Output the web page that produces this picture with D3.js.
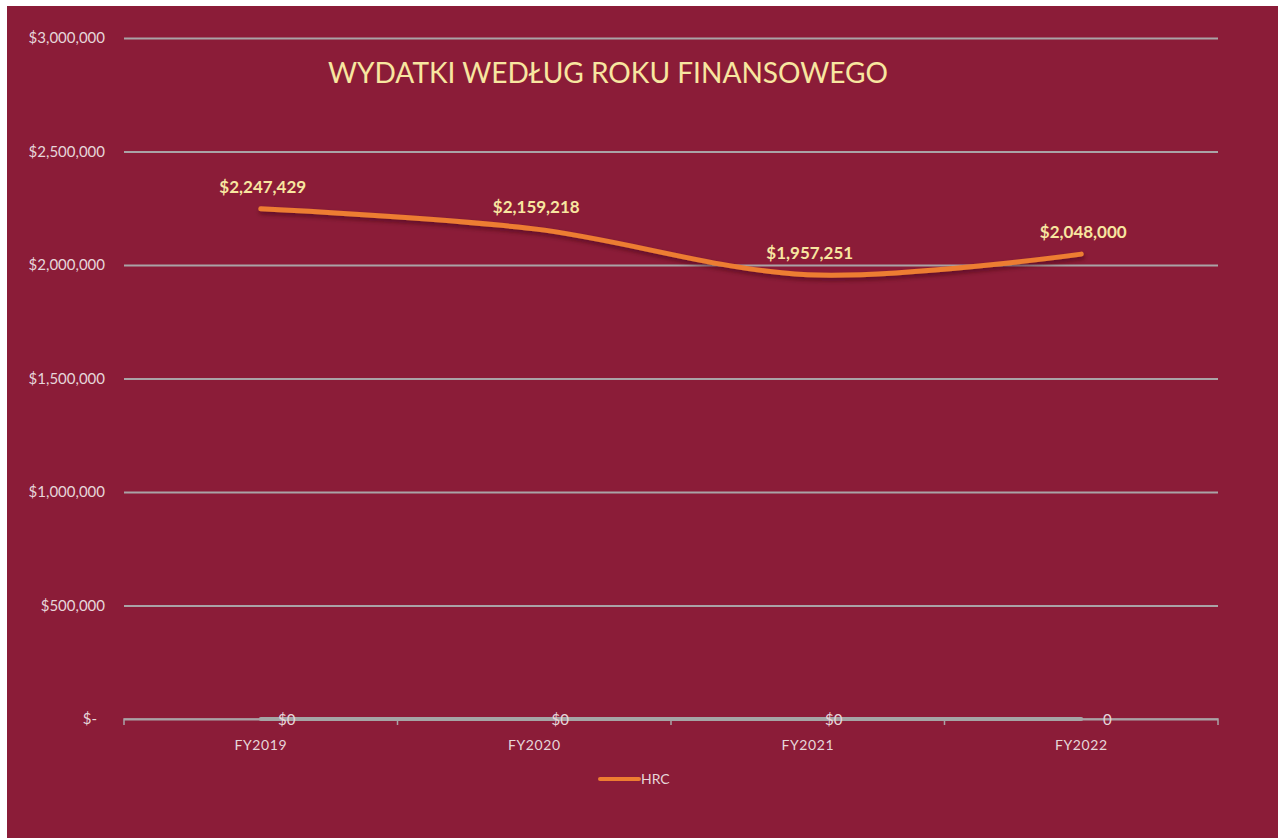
<!DOCTYPE html>
<html lang="pl">
<head>
<meta charset="UTF-8">
<title>Wydatki</title>
<script src="https://d3js.org/d3.v7.min.js"></script>
<style>
  html, body { margin: 0; padding: 0; background: #fff; }
  svg text { font-family: Lato, "Open Sans", sans-serif; }
</style>
</head>
<body>
<svg id="chart" width="1278" height="838"></svg>
<script>
(function () {
  // data
  const years = ["FY2019", "FY2020", "FY2021", "FY2022"];
  const hrc = [2247429, 2159218, 1957251, 2048000];
  const other = [0, 0, 0, 0];
  const otherLabels = ["$0", "$0", "$0", "0"];
  const yTicks = [0, 500000, 1000000, 1500000, 2000000, 2500000, 3000000];

  const svg = d3.select("#chart");
  const left = 124, right = 1218, top = 38, bottom = 719;

  svg.append("rect")
    .attr("x", 7).attr("y", 6)
    .attr("width", 1278 - 7).attr("height", 838 - 6)
    .attr("fill", "#8b1c38");

  const defs = svg.append("defs");
  const f = defs.append("filter").attr("id", "shadow")
    .attr("x", "-10%").attr("y", "-50%").attr("width", "120%").attr("height", "200%");
  f.append("feDropShadow").attr("dx", 1).attr("dy", 3).attr("stdDeviation", 2)
    .attr("flood-color", "#3a0010").attr("flood-opacity", 0.55);

  const x = d3.scaleBand().domain(years).range([left, right]);
  const y = d3.scaleLinear().domain([0, 3000000]).range([bottom, top]);
  const cx = d => x(d) + x.bandwidth() / 2;

  // gridlines + y labels
  const fmt = d3.format(",");
  const yAxis = d3.axisLeft(y).tickValues(yTicks)
    .tickSize(-(right - left)).tickPadding(19)
    .tickFormat(d => d === 0 ? "$-" : "$" + fmt(d));
  const gy = svg.append("g").attr("transform", `translate(${left},0)`).call(yAxis);
  gy.select(".domain").remove();
  gy.selectAll(".tick line").attr("stroke", "#aaa3a6").attr("stroke-width", 2);
  gy.selectAll(".tick text")
    .attr("fill", "#e6d6da").attr("font-size", 15)
    .attr("dx", d => d === 0 ? -8 : 0);

  // x axis
  const xAxis = d3.axisBottom(x).tickSize(0).tickPadding(21);
  const gx = svg.append("g").attr("transform", `translate(0,${bottom})`).call(xAxis);
  gx.select(".domain").attr("stroke", "#aaa3a6").attr("stroke-width", 1.5)
    .attr("d", `M${left},6V0H${right}V6`);
  gx.selectAll(".tick text").attr("fill", "#e6d6da").attr("font-size", 14)
    .attr("letter-spacing", 0.6);
  // boundary tick marks between categories
  svg.append("g").selectAll("line")
    .data(years.slice(1))
    .join("line")
    .attr("x1", d => x(d)).attr("x2", d => x(d))
    .attr("y1", bottom).attr("y2", bottom + 6)
    .attr("stroke", "#aaa3a6").attr("stroke-width", 1.5);

  // zero series
  const line = d3.line().x((d, i) => cx(years[i])).y(d => y(d));
  svg.append("path").datum(other)
    .attr("d", line)
    .attr("fill", "none").attr("stroke", "#a5a5a5")
    .attr("stroke-width", 4).attr("stroke-linecap", "round");
  svg.append("g").selectAll("text")
    .data(otherLabels)
    .join("text")
    .attr("x", (d, i) => cx(years[i]) + 26)
    .attr("y", (d, i) => y(other[i]) + 6)
    .attr("text-anchor", "middle")
    .attr("font-size", 15)
    .attr("fill", "#e6d6da")
    .text(d => d);

  // HRC line
  const smooth = d3.line().x((d, i) => cx(years[i])).y(d => y(d)).curve(d3.curveCardinal);
  svg.append("path").datum(hrc)
    .attr("d", smooth)
    .attr("fill", "none").attr("stroke", "#ed7d31")
    .attr("stroke-width", 5).attr("stroke-linecap", "round")
    .attr("filter", "url(#shadow)");

  svg.append("g").selectAll("text")
    .data(hrc)
    .join("text")
    .attr("x", (d, i) => cx(years[i]) + 2)
    .attr("y", d => y(d) - 16)
    .attr("text-anchor", "middle")
    .attr("font-size", 17).attr("font-weight", "bold")
    .attr("fill", "#f8e6a0")
    .text(d => "$" + fmt(d));

  // title
  svg.append("text")
    .attr("x", 328).attr("y", 83)
    .attr("font-size", 29).attr("font-weight", 400)
    .attr("fill", "#f8e6a0")
    .attr("textLength", 560).attr("lengthAdjust", "spacingAndGlyphs")
    .text("WYDATKI WEDŁUG ROKU FINANSOWEGO");

  // legend
  const lg = svg.append("g").attr("transform", "translate(600,779)");
  lg.append("line").attr("x1", 0).attr("x2", 39)
    .attr("stroke", "#ed7d31").attr("stroke-width", 4).attr("stroke-linecap", "round");
  lg.append("text").attr("x", 41).attr("y", 5)
    .attr("font-size", 14).attr("fill", "#e6d6da").text("HRC");
})();
</script>
</body>
</html>
